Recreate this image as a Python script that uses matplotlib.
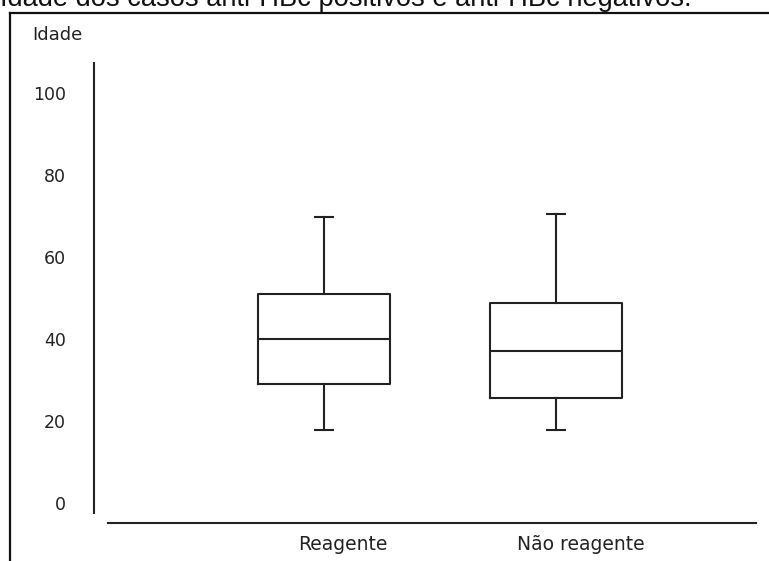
import matplotlib
matplotlib.use("Agg")
import matplotlib.pyplot as plt
from matplotlib.lines import Line2D
from matplotlib.transforms import ScaledTranslation

# values
groups = ["Reagente", "Não reagente"]
whisker_low = [17.8, 17.8]
q1 = [29.0, 25.6]
median = [39.8, 37.1]
q3 = [51.0, 48.7]
whisker_high = [69.7, 70.5]
yticks = [0, 20, 40, 60, 80, 100]
title = "Idade dos casos anti-HBc positivos e anti-HBc negativos."

W, H = 769, 561
fig = plt.figure(figsize=(W / 100, H / 100), dpi=100)
fig.patch.set_facecolor("white")

def px(x, y):
    return x / W, 1 - y / H

# axes placed in pixel terms
left, right, top, bottom = 94, 756, 63, 523
ax = fig.add_axes([left / W, 1 - bottom / H, (right - left) / W, (bottom - top) / H])

col = "#222222"
stats = []
for i in range(len(groups)):
    stats.append(dict(whislo=whisker_low[i], q1=q1[i], med=median[i],
                      q3=q3[i], whishi=whisker_high[i], fliers=[], label=groups[i]))
ax.bxp(stats, positions=[1, 2], widths=0.573, capwidths=0.078, showfliers=False,
       boxprops=dict(color=col, linewidth=1.5),
       medianprops=dict(color=col, linewidth=1.5),
       whiskerprops=dict(color=col, linewidth=1.5),
       capprops=dict(color=col, linewidth=1.5))

ax.set_xlim(0.0086, 2.862)
ax.set_ylim(-5.0, 107.3)
ax.set_yticks(yticks)
ax.set_yticklabels([str(v) for v in yticks], family="DejaVu Sans", fontsize=12.5, color="#222222")
ax.set_xticks([1, 2])
ax.set_xticklabels(groups, family="DejaVu Sans", fontsize=13.5, color="#222222")
ax.tick_params(axis="y", length=0, pad=20)
ax.tick_params(axis="x", length=0, pad=9)
for lab, dx in zip(ax.get_xticklabels(), [19, 25]):
    lab.set_transform(lab.get_transform() + ScaledTranslation(dx / 100, 0, fig.dpi_scale_trans))

for s in ["top", "right"]:
    ax.spines[s].set_visible(False)
ax.spines["left"].set_bounds(-2.5, 107.3)
ax.spines["bottom"].set_bounds(0.0677, 2.862)
for s in ["left", "bottom"]:
    ax.spines[s].set_color(col)
    ax.spines[s].set_linewidth(1.5)

fig.text(*px(32, 35), "Idade", family="DejaVu Sans", fontsize=13, color="#222222",
         ha="left", va="center")

# frame around the chart (cut off at right and bottom)
fig.add_artist(Line2D([10 / W, 10 / W], [1 - 13 / H, 0], transform=fig.transFigure,
                      color="#111111", linewidth=1.6))
fig.add_artist(Line2D([10 / W, 1], [1 - 13 / H, 1 - 13 / H], transform=fig.transFigure,
                      color="#111111", linewidth=1.6))

# caption above, mostly cut off by the top edge as in the source
t = fig.text(0, 1 - 5.5 / H, title, family="Liberation Sans", fontsize=18,
             color="#111111", ha="left", va="baseline")
fig.canvas.draw()
w = t.get_window_extent().width
t.set_fontsize(18 * 689 / w)

fig.savefig("out.png", dpi=100, facecolor="white")
